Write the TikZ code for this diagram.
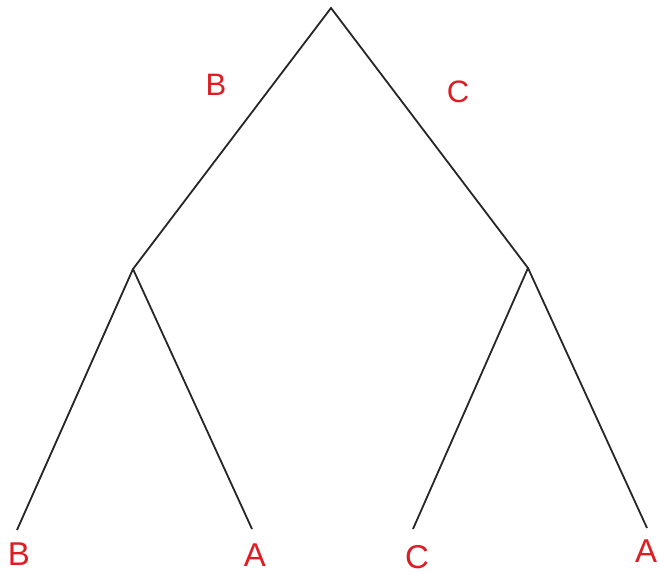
\documentclass[tikz,border=0pt]{standalone}
\usepackage{fontspec}
\setmainfont{Liberation Sans}
\definecolor{lbl}{RGB}{220,30,35}
\begin{document}
\begin{tikzpicture}[x=1pt,y=-1pt,
  edge/.style={draw=black!85,line width=1.8pt},
  lab/.style={text=lbl,font=\fontsize{31}{32}\selectfont,inner sep=0pt,anchor=center},
  blab/.style={lab,font=\fontsize{33}{34}\selectfont}]
\useasboundingbox (0,0) rectangle (659,575);
\coordinate (r) at (331,8);
\coordinate (l) at (133,269);
\coordinate (rr) at (528,268);
\coordinate (lb) at (17,530);
\coordinate (la) at (252,529);
\coordinate (rc) at (413,529);
\coordinate (ra) at (647,528);
\draw[edge] (lb) -- (l) -- (r) -- (rr) -- (ra);
\draw[edge] (l) -- (la);
\draw[edge] (rr) -- (rc);
\node[lab] (tb) at (216,85) {B};
\node[lab] (tc) at (458,92) {C};
\node[blab] (bb) at (19,554) {B};
\node[blab] (ba) at (255,555) {A};
\node[blab] (bc) at (417,557) {C};
\node[blab] (bd) at (646,551) {A};
\end{tikzpicture}
\end{document}
